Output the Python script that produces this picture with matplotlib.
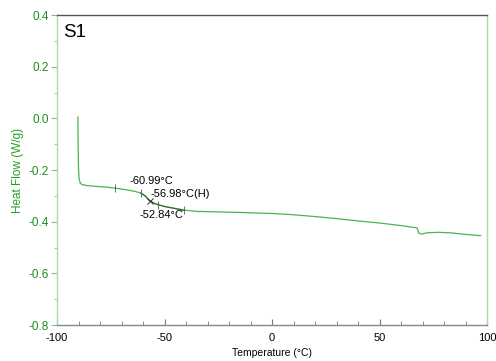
import numpy as np
import matplotlib.pyplot as plt
from matplotlib.ticker import MultipleLocator, FuncFormatter

plt.rcParams['axes.unicode_minus'] = False
plt.rcParams['font.family'] = ['Liberation Sans', 'DejaVu Sans']

# DSC trace
temp = [-90.3, -90.2, -90.0, -89.7, -89.2, -88.4, -86.0, -82.0, -77.0, -73.0, -68.0,
        -64.0, -61.0, -59.0, -57.0, -55.0, -53.0, -50.0, -45.0, -41.0, -35.0, -25.0,
        -15.0, -5.0, 0.0, 10.0, 20.0, 30.0, 40.0, 50.0, 60.0, 67.5, 68.2, 69.5,
        72.0, 77.0, 83.0, 90.0, 97.0]
heat_flow = [0.005, -0.10, -0.20, -0.235, -0.250, -0.256, -0.260, -0.263, -0.266, -0.270, -0.276,
             -0.282, -0.289, -0.300, -0.318, -0.328, -0.334, -0.341, -0.349, -0.355, -0.360, -0.362,
             -0.364, -0.367, -0.368, -0.373, -0.380, -0.388, -0.397, -0.405, -0.415, -0.424, -0.444, -0.448,
             -0.443, -0.441, -0.443, -0.449, -0.454]

# glass transition analysis
tick_temps = [-73.0, -61.0, -53.0, -41.0]
mid_temp = -56.98
onset_label = "-60.99°C"
mid_label = "-56.98°C(H)"
end_label = "-52.84°C"

green = '#4db34d'
dark_green = '#1f8a1f'

fig = plt.figure(figsize=(4.96, 3.61), dpi=100)
ax = fig.add_axes([0.115, 0.0997, 0.867, 0.8583])

ax.plot(temp, heat_flow, color=green, lw=0.9)

# darker fitted segment between onset and end
seg_t = np.linspace(tick_temps[1], tick_temps[3], 40)
ax.plot(seg_t, np.interp(seg_t, temp, heat_flow), color='#2a5a2a', lw=0.9, alpha=0.8)
ax.plot(tick_temps, np.interp(tick_temps, temp, heat_flow), ls='none', marker='|',
        ms=6, mew=0.6, color='#555555')
ax.plot([mid_temp], [np.interp(mid_temp, temp, heat_flow)], ls='none', marker='x',
        ms=5, mew=0.7, color='#333333')

ax.text(-66.5, -0.244, onset_label, fontsize=8, va='center', ha='left')
ax.text(-56.5, -0.291, mid_label, fontsize=8, va='center', ha='left')
ax.text(-61.5, -0.375, end_label, fontsize=8, va='center', ha='left')

ax.text(-97, 0.365, "S1", fontsize=13.5, va='top', ha='left')

ax.set_xlim(-100, 100)
ax.set_ylim(-0.8, 0.4)
ax.xaxis.set_major_locator(MultipleLocator(50))
ax.xaxis.set_minor_locator(MultipleLocator(10))
ax.yaxis.set_major_locator(MultipleLocator(0.2))
ax.yaxis.set_minor_locator(MultipleLocator(0.1))
ax.yaxis.set_major_formatter(FuncFormatter(lambda v, p: "%.1f" % v))

ax.tick_params(axis='x', which='both', direction='in', colors='#777777',
               labelcolor='black', labelsize=8, pad=6)
ax.tick_params(axis='x', which='major', length=4)
ax.tick_params(axis='x', which='minor', length=3)
ax.tick_params(axis='y', which='both', direction='out', colors='#7fc97f',
               labelcolor=dark_green, labelsize=8.5)
ax.tick_params(axis='y', which='major', length=4, pad=2)
ax.tick_params(axis='y', which='minor', length=2)

ax.spines['left'].set_color('#a8dca8')
ax.spines['right'].set_color('#a8dca8')
ax.spines['top'].set_color('#555555')
ax.spines['bottom'].set_color('#888888')
for s in ax.spines.values():
    s.set_linewidth(1.0)

ax.set_xlabel("Temperature (°C)", fontsize=7.5, labelpad=3)
ax.set_ylabel("Heat Flow (W/g)", fontsize=8.5, color='#22a022', labelpad=3)

fig.savefig("out.png", dpi=100)
